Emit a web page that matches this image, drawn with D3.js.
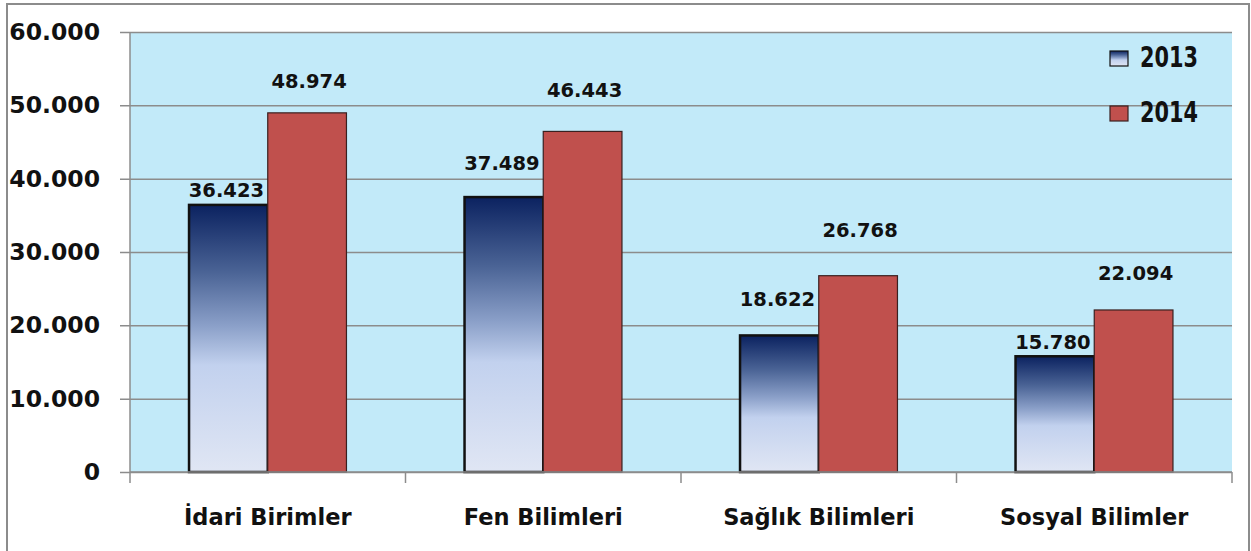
<!DOCTYPE html>
<html>
<head>
<meta charset="utf-8">
<script src="https://cdn.jsdelivr.net/npm/d3@7"></script>
<style>
  body { margin: 0; background: #fff; }
  text { font-family: "DejaVu Sans", sans-serif; font-weight: bold; fill: #111; }
</style>
</head>
<body>
<div id="chart"></div>
<script>
// Data
const categories = ["İdari Birimler", "Fen Bilimleri", "Sağlık Bilimleri", "Sosyal Bilimler"];
const series = ["2013", "2014"];
const values2013 = [36423, 37489, 18622, 15780];
const values2014 = [48974, 46443, 26768, 22094];
const yTicks = [0, 10000, 20000, 30000, 40000, 50000, 60000];

// Label nudges (px above bar top), like manually placed Excel labels
const labelLift2013 = [8, 27, 29, 7];
const labelLift2014 = [25, 34, 39, 30];

const width = 1251, height = 551;
const plot = { left: 130, right: 1232, top: 32, bottom: 472 };

const svg = d3.select("#chart").append("svg")
    .attr("width", width)
    .attr("height", height);

// Outer frame
svg.append("rect")
    .attr("x", 7).attr("y", 4)
    .attr("width", 1242).attr("height", 570)
    .attr("fill", "#fff")
    .attr("stroke", "#8c8c8c")
    .attr("stroke-width", 2);

// Gradient for 2013 bars
const defs = svg.append("defs");
const grad = defs.append("linearGradient")
    .attr("id", "blueGrad")
    .attr("x1", 0).attr("y1", 0).attr("x2", 0).attr("y2", 1);
grad.append("stop").attr("offset", "0%").attr("stop-color", "#0b2260");
grad.append("stop").attr("offset", "25%").attr("stop-color", "#4a6395");
grad.append("stop").attr("offset", "45%").attr("stop-color", "#8a9fc8");
grad.append("stop").attr("offset", "60%").attr("stop-color", "#c2d1ee");
grad.append("stop").attr("offset", "100%").attr("stop-color", "#e0e6f4");

const x0 = d3.scaleBand()
    .domain(categories)
    .range([plot.left, plot.right])
    .paddingInner(0)
    .paddingOuter(0);

const x1 = d3.scaleBand()
    .domain(series)
    .range([0, x0.bandwidth()])
    .paddingInner(0)
    .paddingOuter(0.75);

const y = d3.scaleLinear()
    .domain([0, 60000])
    .range([plot.bottom, plot.top]);

// Plot background
svg.append("rect")
    .attr("x", plot.left).attr("y", plot.top)
    .attr("width", plot.right - plot.left)
    .attr("height", plot.bottom - plot.top)
    .attr("fill", "#c2eaf9");

// Gridlines + ticks
const fmt = v => v === 0 ? "0" : d3.format(",")(v).replace(/,/g, ".");
svg.append("g")
    .attr("transform", `translate(${plot.left},0)`)
    .call(d3.axisLeft(y).tickValues(yTicks).tickSize(-(plot.right - plot.left)).tickFormat(fmt).tickPadding(20))
    .call(g => g.select(".domain").remove())
    .call(g => g.selectAll(".tick line").attr("stroke", "#8c8c8c").attr("stroke-width", 1.5).attr("x1", -10))
    .call(g => g.selectAll(".tick text")
        .attr("x", -30)
        .attr("font-size", 23.5)
        .attr("font-family", "DejaVu Sans")
        .attr("font-weight", "bold")
        .attr("fill", "#111"));

// Left axis line
svg.append("line")
    .attr("x1", plot.left).attr("x2", plot.left)
    .attr("y1", plot.top).attr("y2", plot.bottom)
    .attr("stroke", "#8c8c8c").attr("stroke-width", 1.5);

// Bars
const groups = svg.append("g").selectAll("g")
    .data(categories)
    .join("g")
    .attr("transform", d => `translate(${x0(d)},0)`);

groups.append("rect")
    .attr("x", x1("2013"))
    .attr("y", (d, i) => y(values2013[i]))
    .attr("width", x1.bandwidth())
    .attr("height", (d, i) => y(0) - y(values2013[i]))
    .attr("fill", "url(#blueGrad)")
    .attr("stroke", "#111")
    .attr("stroke-width", 2.5);

groups.append("rect")
    .attr("x", x1("2014"))
    .attr("y", (d, i) => y(values2014[i]))
    .attr("width", x1.bandwidth())
    .attr("height", (d, i) => y(0) - y(values2014[i]))
    .attr("fill", "#c0504d")
    .attr("stroke", "#3a2020")
    .attr("stroke-width", 1.2);

// Value labels
groups.append("text")
    .attr("x", x1("2013") + x1.bandwidth() / 2 - 2)
    .attr("y", (d, i) => y(values2013[i]) - labelLift2013[i])
    .attr("text-anchor", "middle")
    .attr("font-size", 19.5)
    .text((d, i) => fmt(values2013[i]));

groups.append("text")
    .attr("x", x1("2014") + x1.bandwidth() / 2 + 2)
    .attr("y", (d, i) => y(values2014[i]) - labelLift2014[i])
    .attr("text-anchor", "middle")
    .attr("font-size", 19.5)
    .text((d, i) => fmt(values2014[i]));

// Bottom axis
svg.append("line")
    .attr("x1", plot.left).attr("x2", plot.right)
    .attr("y1", plot.bottom).attr("y2", plot.bottom)
    .attr("stroke", "#8c8c8c").attr("stroke-width", 1.5);

const boundaries = categories.map(c => x0(c)).concat([plot.right]);
svg.append("g").selectAll("line")
    .data(boundaries)
    .join("line")
    .attr("x1", d => d).attr("x2", d => d)
    .attr("y1", plot.bottom).attr("y2", plot.bottom + 11)
    .attr("stroke", "#8c8c8c").attr("stroke-width", 1.5);

svg.append("g").selectAll("text")
    .data(categories)
    .join("text")
    .attr("x", d => x0(d) + x0.bandwidth() / 2)
    .attr("y", 525)
    .attr("text-anchor", "middle")
    .attr("font-size", 22.5)
    .text(d => d);

// Legend
const legend = svg.append("g");
const legendRows = [
    { label: series[0], fill: "url(#blueGrad)", stroke: "#111", y: 67 },
    { label: series[1], fill: "#c0504d", stroke: "#3a2020", y: 122 }
];
legend.selectAll("rect")
    .data(legendRows)
    .join("rect")
    .attr("x", 1110).attr("y", d => d.y - 16)
    .attr("width", 18).attr("height", 15)
    .attr("fill", d => d.fill)
    .attr("stroke", d => d.stroke)
    .attr("stroke-width", 1.2);
legend.selectAll("text")
    .data(legendRows)
    .join("text")
    .attr("x", 1140).attr("y", d => d.y)
    .attr("font-size", 29)
    .attr("font-weight", "normal")
    .attr("textLength", 58)
    .attr("lengthAdjust", "spacingAndGlyphs")
    .text(d => d.label);
</script>
</body>
</html>
